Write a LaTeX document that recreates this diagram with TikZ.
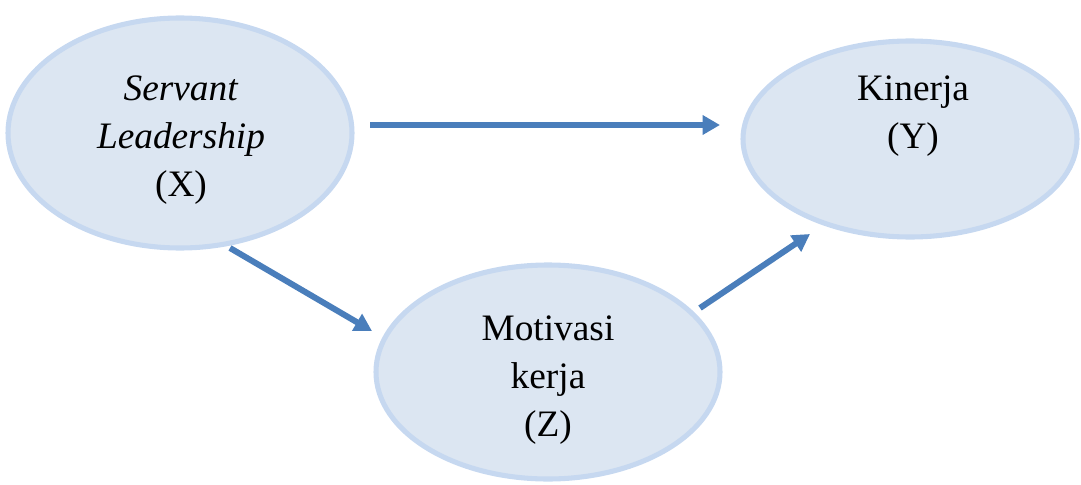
\documentclass[tikz,border=0pt]{standalone}
\usepackage{fontspec}
\setmainfont{Liberation Serif}
\usetikzlibrary{shapes.geometric,arrows.meta}
\definecolor{efill}{RGB}{220,230,242}
\definecolor{eline}{RGB}{198,216,240}
\definecolor{arr}{RGB}{74,126,187}
\begin{document}
\begin{tikzpicture}[x=0.75pt,y=-0.75pt,
  var/.style={ellipse,fill=efill,draw=eline,line width=3.8pt,inner sep=0pt},
  lbl/.style={align=center,font=\fontsize{28}{36}\selectfont},
  conn/.style={draw=arr,line width=4.5pt,-{Triangle[length=13pt,width=14pt]}}]
\useasboundingbox (0,0) rectangle (1081,485);
\node[var,minimum width=344*0.75pt,minimum height=230*0.75pt] (X) at (180,133) {};
\node[var,minimum width=334*0.75pt,minimum height=196*0.75pt] (Y) at (910,139) {};
\node[var,minimum width=344*0.75pt,minimum height=214*0.75pt] (Z) at (548,372) {};
\node[lbl] (tx) at (181,140) {\textit{Servant}\\ \textit{Leadership}\\ (X)};
\node[lbl] (ty) at (913,116) {Kinerja\\ (Y)};
\node[lbl] (tz) at (548,380) {Motivasi\\ kerja\\ (Z)};
\coordinate (a1) at (370,125);
\coordinate (a2) at (720,125);
\coordinate (b1) at (230,248);
\coordinate (b2) at (372,331);
\coordinate (c1) at (700,308);
\coordinate (c2) at (810,234);
\draw[conn] (a1) -- (a2);
\draw[conn] (b1) -- (b2);
\draw[conn] (c1) -- (c2);
\end{tikzpicture}
\end{document}
